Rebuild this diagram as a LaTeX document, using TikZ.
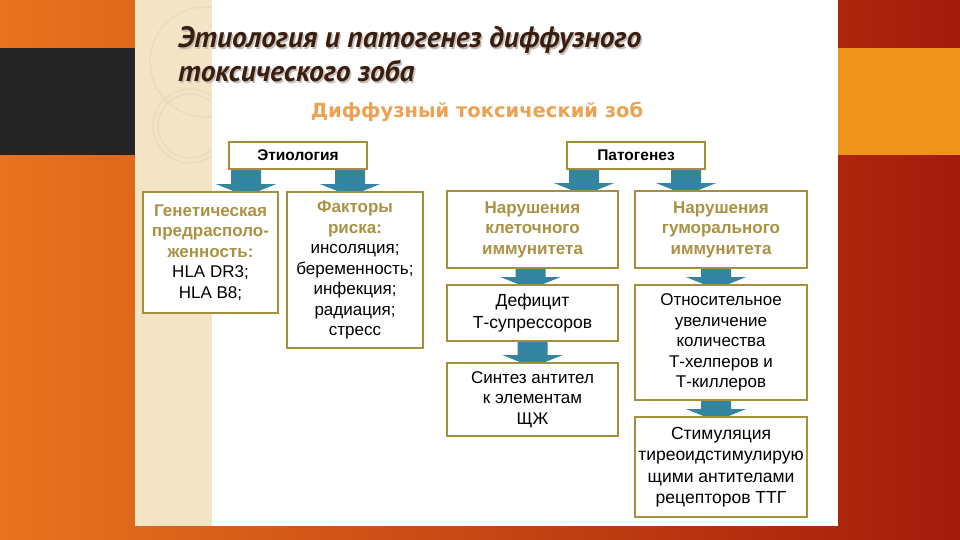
\documentclass[tikz,border=0pt]{standalone}
\usepackage{fontspec}
\setmainfont{Liberation Sans}
\newfontfamily\titlefont{PT Sans}
\newfontfamily\subfont{DejaVu Sans}
\usetikzlibrary{calc}
\definecolor{boxc}{RGB}{163,143,62}
\definecolor{headc}{RGB}{170,146,68}
\definecolor{arrc}{RGB}{52,134,160}
\definecolor{subc}{RGB}{236,162,82}
\definecolor{titc}{RGB}{58,30,18}
\definecolor{shadc}{RGB}{200,190,180}
\definecolor{beigec}{RGB}{242,228,196}
\definecolor{circc}{RGB}{230,218,192}
\definecolor{orL}{RGB}{232,116,30}
\definecolor{redR}{RGB}{165,26,10}
\definecolor{darkband}{RGB}{37,37,37}
\definecolor{orband}{RGB}{238,148,26}
\pgfdeclarelayer{bg}
\pgfdeclarelayer{arr}
\pgfsetlayers{bg,arr,main}
\tikzset{
  box/.style={draw=boxc, line width=1.8pt, fill=white, align=center, inner sep=2pt,
    font=\fontsize{17}{20.5}\selectfont},
  hbox/.style={box, font=\fontsize{15.5}{18}\selectfont\bfseries},
  ttl/.style={font=\titlefont\fontsize{29.5}{34}\selectfont\bfseries\itshape, text=titc, inner sep=0pt, anchor=base west},
  ttlshadow/.style={ttl, text=shadc},
}
\newcommand\hd[1]{\textcolor{headc}{\bfseries #1}}
\newcommand\blockarrow[3]{%
  \begin{pgfonlayer}{arr}
  \fill[arrc] let \p1=($(#1.south)+(#2,0)$), \p2=(#3.north) in
    (\x1-15pt,\y1) -- (\x1+15pt,\y1) -- (\x1+15pt,\y2+7pt) -- (\x1+30pt,\y2+7pt)
    -- (\x1,\y2-5pt) -- (\x1-30pt,\y2+7pt) -- (\x1-15pt,\y2+7pt) -- cycle;
  \end{pgfonlayer}}
\begin{document}
\begin{tikzpicture}[x=1pt,y=-1pt]
\useasboundingbox (0,0) rectangle (960,540);
\begin{pgfonlayer}{bg}
  \shade[left color=orL, right color=redR] (0,0) rectangle (960,540);
  \fill[darkband] (0,48) rectangle (135,155);
  \fill[orband] (838,48) rectangle (960,155);
  \fill[white] (135,0) rectangle (838,526);
  \fill[beigec] (135,0) rectangle (212,526);
  \begin{scope}
    \clip (135,0) rectangle (212,200);
    \draw[circc, line width=1.2pt] (205,62) circle (55);
    \draw[circc, line width=1.2pt] (190,126) circle (37);
    \draw[circc, line width=1.2pt] (190,126) circle (32);
  \end{scope}
\end{pgfonlayer}

\node[ttlshadow] (t1s) at (179.5,49.5) {Этиология и патогенез диффузного};
\node[ttlshadow] (t2s) at (179.5,83.5) {токсического зоба};
\node[ttl] (t1) at (178,48) {Этиология и патогенез диффузного};
\node[ttl] (t2) at (178,82) {токсического зоба};

\node[font=\subfont\fontsize{19.5}{22}\selectfont\bfseries, text=subc] (sub) at (477,112) {Диффузный токсический зоб};

\node[hbox, minimum width=138pt, minimum height=27pt] (etio) at (298,155.5) {Этиология};
\node[hbox, minimum width=138pt, minimum height=27pt] (pato) at (636,155.5) {Патогенез};

\node[box, minimum width=135pt, minimum height=121pt] (gen) at (210.5,252.5)
  {\hd{Генетическая}\\\hd{предрасполо-}\\\hd{женность:}\\HLA DR3;\\HLA B8;};
\node[box, minimum width=136pt, minimum height=156pt] (fact) at (355,270)
  {\hd{Факторы}\\\hd{риска:}\\инсоляция;\\беременность;\\инфекция;\\радиация;\\стресс};

\node[box, minimum width=171pt, minimum height=77pt] (cell) at (532.5,229.5)
  {\hd{Нарушения}\\\hd{клеточного}\\\hd{иммунитета}};
\node[box, minimum width=172pt, minimum height=77pt] (hum) at (721,229.5)
  {\hd{Нарушения}\\\hd{гуморального}\\\hd{иммунитета}};

\node[box, minimum width=171pt, minimum height=56pt, font=\fontsize{17.5}{22}\selectfont] (def) at (532.5,313)
  {Дефицит\\Т-супрессоров};
\node[box, minimum width=171pt, minimum height=73pt] (syn) at (532.5,399.5)
  {Синтез антител\\к элементам\\ЩЖ};
\node[box, minimum width=172pt, minimum height=115pt] (rel) at (721,342.5)
  {Относительное\\увеличение\\количества\\Т-хелперов и\\Т-киллеров};
\node[box, minimum width=172pt, minimum height=100pt, font=\fontsize{17.5}{21.5}\selectfont] (stim) at (721,467)
  {Стимуляция\\тиреоидстимулирую\\щими антителами\\рецепторов ТТГ};

\blockarrow{etio}{-52pt}{gen}
\blockarrow{etio}{52pt}{fact}
\blockarrow{pato}{-52pt}{cell}
\blockarrow{pato}{50pt}{hum}
\blockarrow{cell}{-2pt}{def}
\blockarrow{def}{0pt}{syn}
\blockarrow{hum}{-5pt}{rel}
\blockarrow{rel}{-5pt}{stim}
\end{tikzpicture}
\end{document}
